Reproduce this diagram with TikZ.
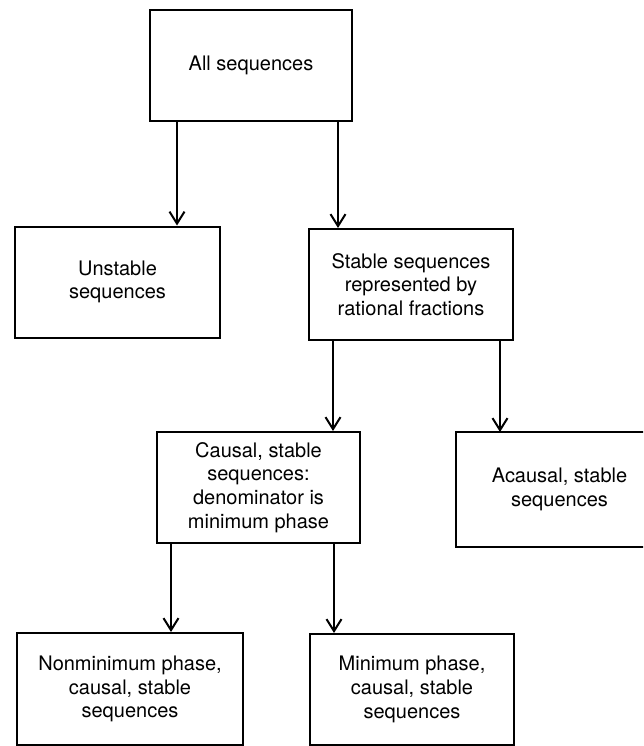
\documentclass[tikz,border=0pt]{standalone}
\usepackage{fontspec}
\setmainfont{TeX Gyre Heros}
\usetikzlibrary{arrows.meta}

\begin{document}
\begin{tikzpicture}[x=1pt, y=-1pt, >={Straight Barb[length=12pt,width=15pt]},
    line width=2pt, font=\fontsize{20}{23.7}\selectfont]
  \tikzset{setbox/.style={draw, line width=2pt, align=center, inner sep=0pt,
      minimum width=204pt, minimum height=111pt}}
  \useasboundingbox (0,0) rectangle (643,746);
  \clip (0,0) rectangle (643,746);
  % ---------------------------------------------------------------- top level
  \node[setbox, minimum width=202pt] (all) at (251,65.5) {All sequences};
  % ---------------------------------------------------------------- second row
  \node[setbox, minimum width=205pt] (unstable) at (117.5,282) {Unstable\\sequences};
  \node[setbox] (stable) at (411,284.5) {Stable sequences\\represented by\\rational fractions};
  \draw[->] ([xshift=28pt]all.south west) -- ([xshift=28pt]all.south west |- unstable.north);
  \draw[->] ([xshift=-15pt]all.south east) -- ([xshift=-15pt]all.south east |- stable.north);
  % ---------------------------------------------------------------- third row
  \node[setbox, minimum width=203pt] (causal) at (258.5,487.5) {Causal, stable\\sequences:\\denominator is\\minimum phase};
  % the right side of this box runs off the page
  \node[setbox, draw=none, minimum width=205pt, minimum height=113pt] (acausal) at (559.5,489.5) {Acausal, stable\\sequences};
  \draw ([xshift=20pt]acausal.north east) -- (acausal.north west) -- (acausal.south west) -- ([xshift=20pt]acausal.south east);
  \draw[->] ([xshift=25pt]stable.south west) -- ([xshift=25pt]stable.south west |- causal.north);
  \draw[->] ([xshift=-14pt]stable.south east) -- ([xshift=-14pt]stable.south east |- acausal.north);
  % ---------------------------------------------------------------- bottom row
  \node[setbox, minimum width=226pt, minimum height=112pt] (nonmin) at (130,689) {Nonminimum phase,\\causal, stable\\sequences};
  \node[setbox] (minph) at (412,689.5) {Minimum phase,\\causal, stable\\sequences};
  \draw[->] ([xshift=15pt]causal.south west) -- ([xshift=15pt]causal.south west |- nonmin.north);
  \draw[->] ([xshift=-27pt]causal.south east) -- ([xshift=-27pt]causal.south east |- minph.north);
\end{tikzpicture}
\end{document}
